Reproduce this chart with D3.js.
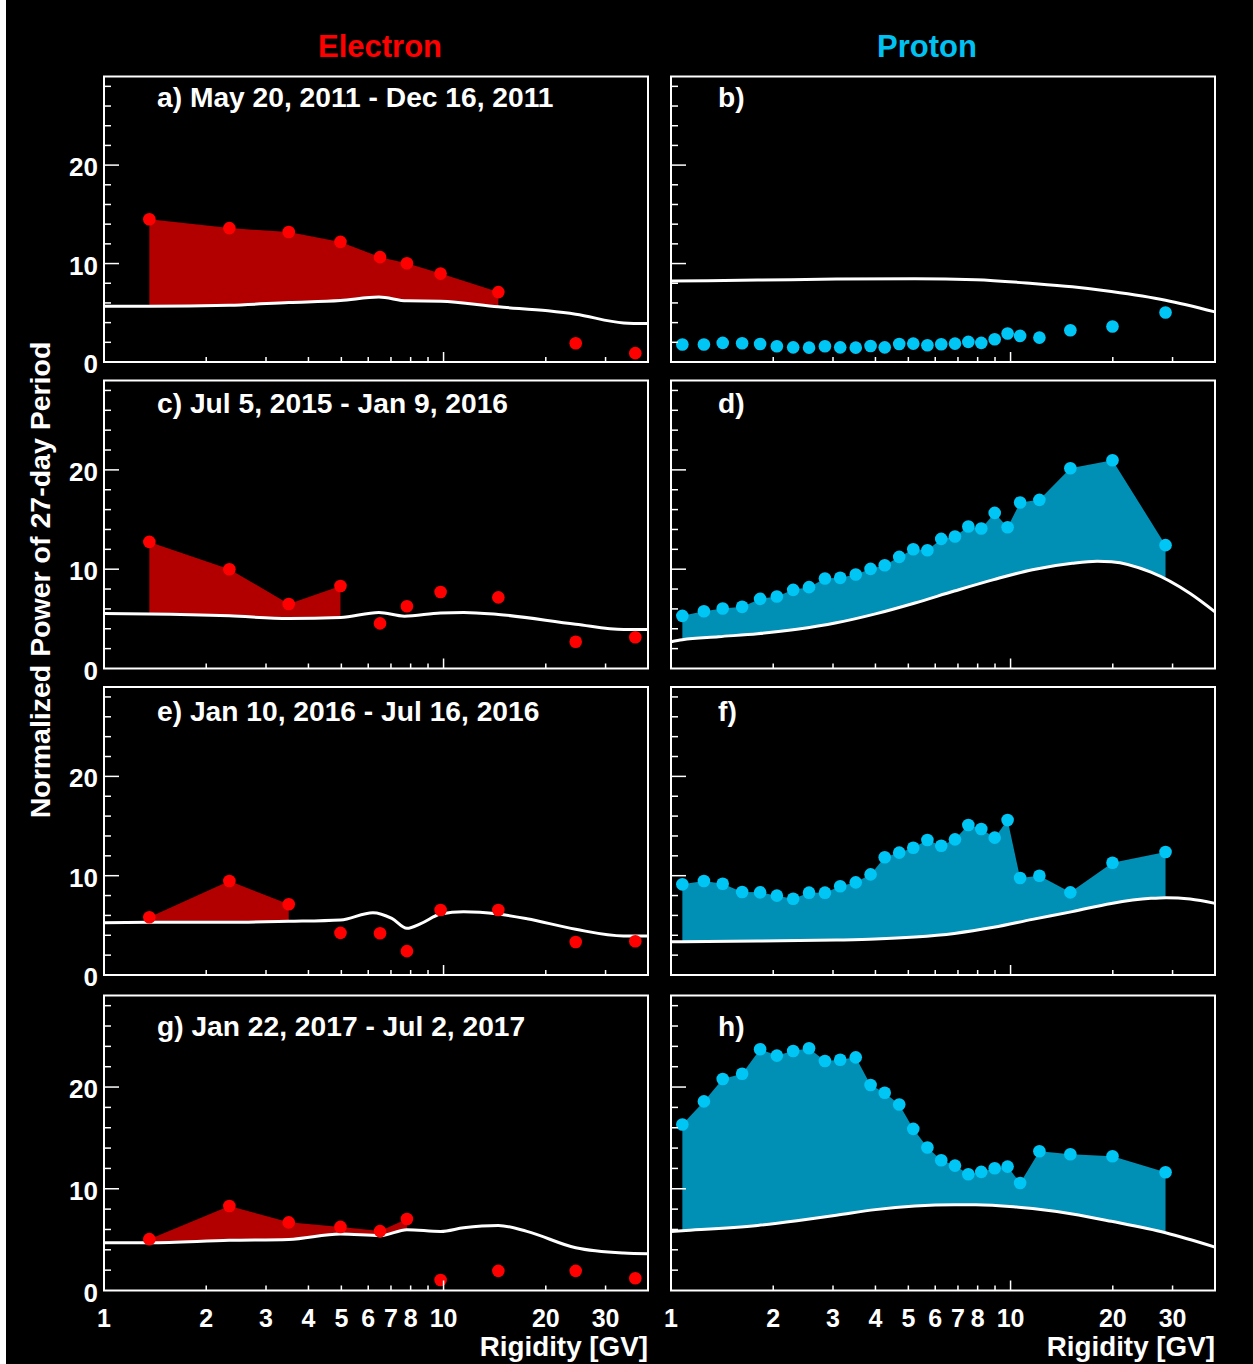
<!DOCTYPE html>
<html>
<head>
<meta charset="utf-8">
<script src="https://cdn.jsdelivr.net/npm/d3@7"></script>
<style>
  html, body { margin: 0; padding: 0; background: #000; }
  svg { display: block; }
  text { font-family: "Liberation Sans", Arial, Helvetica, sans-serif; font-weight: bold; }
</style>
</head>
<body>
<svg id="chart" width="1253" height="1364"></svg>
<script>
// ---- Rigidity bin centres (GV) ----
const electronRigidity = [1.36, 2.34, 3.5, 4.97, 6.5, 7.8, 9.8, 14.5, 24.5, 36.7];
const protonRigidity = [1.08, 1.25, 1.42, 1.62, 1.83, 2.05, 2.29, 2.55, 2.84, 3.15, 3.5, 3.87, 4.26,
  4.7, 5.17, 5.69, 6.25, 6.86, 7.51, 8.2, 8.98, 9.8, 10.67, 12.16, 15.0, 19.96, 28.6];

// ---- Normalized power of the 27-day period, per time interval ----
const electronA = [14.5, 13.6, 13.2, 12.2, 10.65, 10.03, 8.98, 7.1, 1.9, 0.9];
const electronC = [12.75, 10.0, 6.5, 8.3, 4.54, 6.27, 7.7, 7.16, 2.7, 3.14];
const electronE = [5.82, 9.46, 7.12, 4.24, 4.2, 2.4, 6.55, 6.54, 3.32, 3.4];
const electronG = [5.05, 8.3, 6.7, 6.25, 5.84, 7.03, 1.03, 1.93, 1.93, 1.2];

const protonB = [1.77, 1.77, 1.94, 1.9, 1.83, 1.6, 1.49, 1.46, 1.6, 1.49, 1.46, 1.63, 1.49, 1.83,
  1.87, 1.7, 1.8, 1.87, 2.04, 1.94, 2.31, 2.89, 2.65, 2.48, 3.23, 3.6, 5.03];
const protonD = [5.3, 5.77, 6.04, 6.21, 7.01, 7.25, 7.92, 8.19, 9.06, 9.13, 9.46, 10.03, 10.4, 11.24,
  12.01, 11.91, 13.05, 13.29, 14.3, 14.09, 15.67, 14.23, 16.71, 16.98, 20.17, 20.97, 12.42];
const protonF = [9.13, 9.46, 9.19, 8.36, 8.32, 7.99, 7.68, 8.29, 8.29, 8.93, 9.33, 10.13, 11.85, 12.32,
  12.82, 13.59, 13.02, 13.66, 15.1, 14.7, 13.83, 15.6, 9.77, 10.0, 8.32, 11.31, 12.38];
const protonH = [16.32, 18.59, 20.79, 21.31, 23.71, 23.09, 23.55, 23.81, 22.56, 22.69, 22.92, 20.2, 19.44,
  18.29, 15.89, 14.06, 12.81, 12.28, 11.43, 11.66, 12.02, 12.18, 10.57, 13.69, 13.4, 13.2, 11.63];

// ---- Significance threshold curves (rigidity, power) ----
const thresholdARigidity = [1.0, 1.36, 2.34, 3.5, 4.97, 6.45, 7.8, 9.8, 14.5, 20.3, 24.5, 33.9, 40];
const thresholdAValues   = [5.67, 5.67, 5.77, 6.04, 6.25, 6.6, 6.21, 6.18, 5.6, 5.2, 4.86, 3.97, 3.9];
const thresholdBRigidity = [1.0, 1.8, 3.07, 5.23, 7.9, 11.6, 15.2, 19.8, 28.6, 40];
const thresholdBValues   = [8.22, 8.32, 8.42, 8.46, 8.35, 7.98, 7.64, 7.16, 6.28, 5.09];
const thresholdCRigidity = [1.0, 1.36, 2.34, 3.5, 4.97, 6.45, 7.67, 9.8, 11.46, 14.5, 24.5, 33.9, 40];
const thresholdCValues   = [5.54, 5.5, 5.3, 5.03, 5.13, 5.64, 5.27, 5.6, 5.64, 5.44, 4.46, 3.93, 3.93];
const thresholdDRigidity = [1.0, 1.08, 1.38, 1.8, 2.35, 3.07, 4.0, 5.23, 6.83, 8.92, 11.6, 15.2, 18, 19.8, 25.9, 33.8, 40];
const thresholdDValues   = [2.7, 2.9, 3.2, 3.5, 3.95, 4.6, 5.5, 6.6, 7.8, 8.95, 9.95, 10.6, 10.8, 10.75, 9.7, 7.55, 5.7];
const thresholdERigidity = [1.0, 1.36, 2.34, 3.5, 4.97, 6.19, 7.04, 7.8, 8.6, 9.8, 11.46, 14.5, 17.6, 24.5, 33.9, 40];
const thresholdEValues   = [5.27, 5.3, 5.3, 5.4, 5.54, 6.28, 5.7, 4.7, 5.2, 6.14, 6.38, 6.14, 5.67, 4.6, 3.93, 3.93];
const thresholdFRigidity = [1.0, 1.08, 1.8, 3.07, 4.0, 5.23, 6.83, 8.92, 11.6, 15.2, 19.8, 25.9, 28.7, 33.8, 40];
const thresholdFValues   = [3.36, 3.36, 3.42, 3.52, 3.62, 3.83, 4.19, 4.8, 5.6, 6.38, 7.21, 7.72, 7.79, 7.65, 7.21];
const thresholdGRigidity = [1.0, 1.36, 2.34, 3.5, 4.97, 6.52, 7.8, 9.8, 11.46, 14.5, 17.6, 24.5, 33.9, 40];
const thresholdGValues   = [4.7, 4.7, 4.93, 5.02, 5.55, 5.39, 5.98, 5.81, 6.17, 6.4, 5.81, 4.2, 3.68, 3.61];
const thresholdHRigidity = [1.0, 1.08, 1.8, 2.35, 3.07, 4.0, 5.23, 6.83, 7.9, 10.2, 11.6, 15.2, 19.8, 28.6, 40];
const thresholdHValues   = [5.81, 5.88, 6.4, 6.86, 7.39, 7.95, 8.31, 8.44, 8.44, 8.24, 8.05, 7.52, 6.8, 5.68, 4.27];

// Number of leading points whose excess over the threshold is shaded
const shadedCounts = { a: 8, b: 0, c: 4, d: 27, e: 3, f: 27, g: 6, h: 27 };

const panelLabels = {
  a: "a) May 20, 2011 - Dec 16, 2011", b: "b)",
  c: "c) Jul 5, 2015 - Jan 9, 2016",   d: "d)",
  e: "e) Jan 10, 2016 - Jul 16, 2016", f: "f)",
  g: "g) Jan 22, 2017 - Jul 2, 2017",  h: "h)"
};

const xTickLabels = [1, 2, 3, 4, 5, 6, 7, 8, 10, 20, 30];
const yTickLabels = [0, 10, 20];

// ---- Styling / layout ----
const species = {
  electron: { title: "Electron", dot: "#ff0000", fill: "#b20000", titleColor: "#ff0000" },
  proton:   { title: "Proton",   dot: "#00c6f6", fill: "#008fb5", titleColor: "#00c2f2" }
};
const colX = [104, 671];
const colW = 544;
const rowTop = [76.5, 380.5, 687, 995.5];
const rowBottom = [362, 668.5, 975, 1290.5];
const labelBaseline = [107, 413, 721, 1036];
const labelOffset = [53, 47];

const panels = [
  { id: "a", row: 0, col: 0, kind: "electron", r: electronRigidity, v: electronA, tr: thresholdARigidity, tv: thresholdAValues },
  { id: "b", row: 0, col: 1, kind: "proton",   r: protonRigidity,   v: protonB,   tr: thresholdBRigidity, tv: thresholdBValues },
  { id: "c", row: 1, col: 0, kind: "electron", r: electronRigidity, v: electronC, tr: thresholdCRigidity, tv: thresholdCValues },
  { id: "d", row: 1, col: 1, kind: "proton",   r: protonRigidity,   v: protonD,   tr: thresholdDRigidity, tv: thresholdDValues },
  { id: "e", row: 2, col: 0, kind: "electron", r: electronRigidity, v: electronE, tr: thresholdERigidity, tv: thresholdEValues },
  { id: "f", row: 2, col: 1, kind: "proton",   r: protonRigidity,   v: protonF,   tr: thresholdFRigidity, tv: thresholdFValues },
  { id: "g", row: 3, col: 0, kind: "electron", r: electronRigidity, v: electronG, tr: thresholdGRigidity, tv: thresholdGValues },
  { id: "h", row: 3, col: 1, kind: "proton",   r: protonRigidity,   v: protonH,   tr: thresholdHRigidity, tv: thresholdHValues }
];

const svg = d3.select("#chart");
svg.append("rect").attr("width", 1253).attr("height", 1364).attr("fill", "#000");
svg.append("rect").attr("width", 6).attr("height", 1364).attr("fill", "#fff");
const defs = svg.append("defs");

// Column titles
[["electron", 0], ["proton", 1]].forEach(([k, c]) => {
  svg.append("text")
    .attr("x", colX[c] + colW / 2 + (c === 0 ? 4 : -16))
    .attr("y", 57)
    .attr("text-anchor", "middle")
    .attr("font-size", 31)
    .attr("fill", species[k].titleColor)
    .text(species[k].title);
});

// Y-axis title
svg.append("text")
  .attr("transform", "translate(50,580) rotate(-90)")
  .attr("text-anchor", "middle")
  .attr("font-size", 28.5)
  .attr("fill", "#fff")
  .text("Normalized Power of 27-day Period");

panels.forEach(p => {
  const x0 = colX[p.col], x1 = x0 + colW;
  const top = rowTop[p.row], bottom = rowBottom[p.row];
  const x = d3.scaleLog().domain([1, 40]).range([x0, x1]);
  const y = d3.scaleLinear().domain([0, 29]).range([bottom, top]);
  const sty = species[p.kind];
  const g = svg.append("g");

  const thr = p.tr.map((r, i) => [r, p.tv[i]]);
  const pts = p.r.map((r, i) => [r, p.v[i]]);
  const n = shadedCounts[p.id];

  // Shaded excess above the threshold: clip a polygon under the points to the region above the curve
  if (n > 0) {
    const clipId = "above-" + p.id;
    defs.append("clipPath").attr("id", clipId)
      .append("path")
      .attr("d", d3.area().curve(d3.curveMonotoneX)
        .x(d => x(d[0])).y0(top).y1(d => y(d[1]))(thr));
    const shaded = pts.slice(0, n);
    const poly = shaded.map(d => [x(d[0]), y(d[1])]);
    poly.push([x(shaded[n - 1][0]), y(0)]);
    poly.push([x(shaded[0][0]), y(0)]);
    g.append("path")
      .attr("d", d3.line()(poly) + "Z")
      .attr("fill", sty.fill)
      .attr("clip-path", `url(#${clipId})`);
  }

  // Threshold curve
  g.append("path")
    .attr("d", d3.line().curve(d3.curveMonotoneX).x(d => x(d[0])).y(d => y(d[1]))(thr))
    .attr("fill", "none")
    .attr("stroke", "#fff")
    .attr("stroke-width", 3);

  // Data points
  g.selectAll("circle.pt").data(pts).join("circle")
    .attr("class", "pt")
    .attr("cx", d => x(d[0]))
    .attr("cy", d => y(d[1]))
    .attr("r", 6.3)
    .attr("fill", sty.dot);

  // Frame
  g.append("rect")
    .attr("x", x0).attr("y", top)
    .attr("width", colW).attr("height", bottom - top)
    .attr("fill", "none").attr("stroke", "#fff").attr("stroke-width", 2);

  // Y ticks (inside, from left edge)
  g.selectAll("line.yt").data(d3.range(2, 29, 2)).join("line")
    .attr("class", "yt")
    .attr("x1", x0).attr("x2", d => x0 + (d % 10 === 0 ? 15 : 7))
    .attr("y1", d => y(d)).attr("y2", d => y(d))
    .attr("stroke", "#fff").attr("stroke-width", 1.5);

  // X ticks (inside, from bottom edge)
  const xMinor = [2, 3, 4, 5, 6, 7, 8, 9, 10, 20, 30];
  g.selectAll("line.xt").data(xMinor).join("line")
    .attr("class", "xt")
    .attr("x1", d => x(d)).attr("x2", d => x(d))
    .attr("y1", bottom).attr("y2", d => bottom - (d === 10 ? 10 : 5))
    .attr("stroke", "#fff").attr("stroke-width", 1.5);

  // Y tick labels on the left column
  if (p.col === 0) {
    g.selectAll("text.yl").data(yTickLabels).join("text")
      .attr("class", "yl")
      .attr("x", x0 - 6)
      .attr("y", d => y(d) + 11)
      .attr("text-anchor", "end")
      .attr("font-size", 26)
      .attr("fill", "#fff")
      .text(d => d);
  }

  // X tick labels and axis title on the bottom row
  if (p.row === 3) {
    g.selectAll("text.xl").data(xTickLabels).join("text")
      .attr("class", "xl")
      .attr("x", d => x(d))
      .attr("y", 1327)
      .attr("text-anchor", "middle")
      .attr("font-size", 25)
      .attr("fill", "#fff")
      .text(d => d);
    g.append("text")
      .attr("x", x1)
      .attr("y", 1356)
      .attr("text-anchor", "end")
      .attr("font-size", 27.8)
      .attr("fill", "#fff")
      .text("Rigidity [GV]");
  }

  // Panel label
  g.append("text")
    .attr("x", x0 + labelOffset[p.col])
    .attr("y", labelBaseline[p.row])
    .attr("font-size", 28.2)
    .attr("fill", "#fff")
    .text(panelLabels[p.id]);
});
</script>
</body>
</html>
